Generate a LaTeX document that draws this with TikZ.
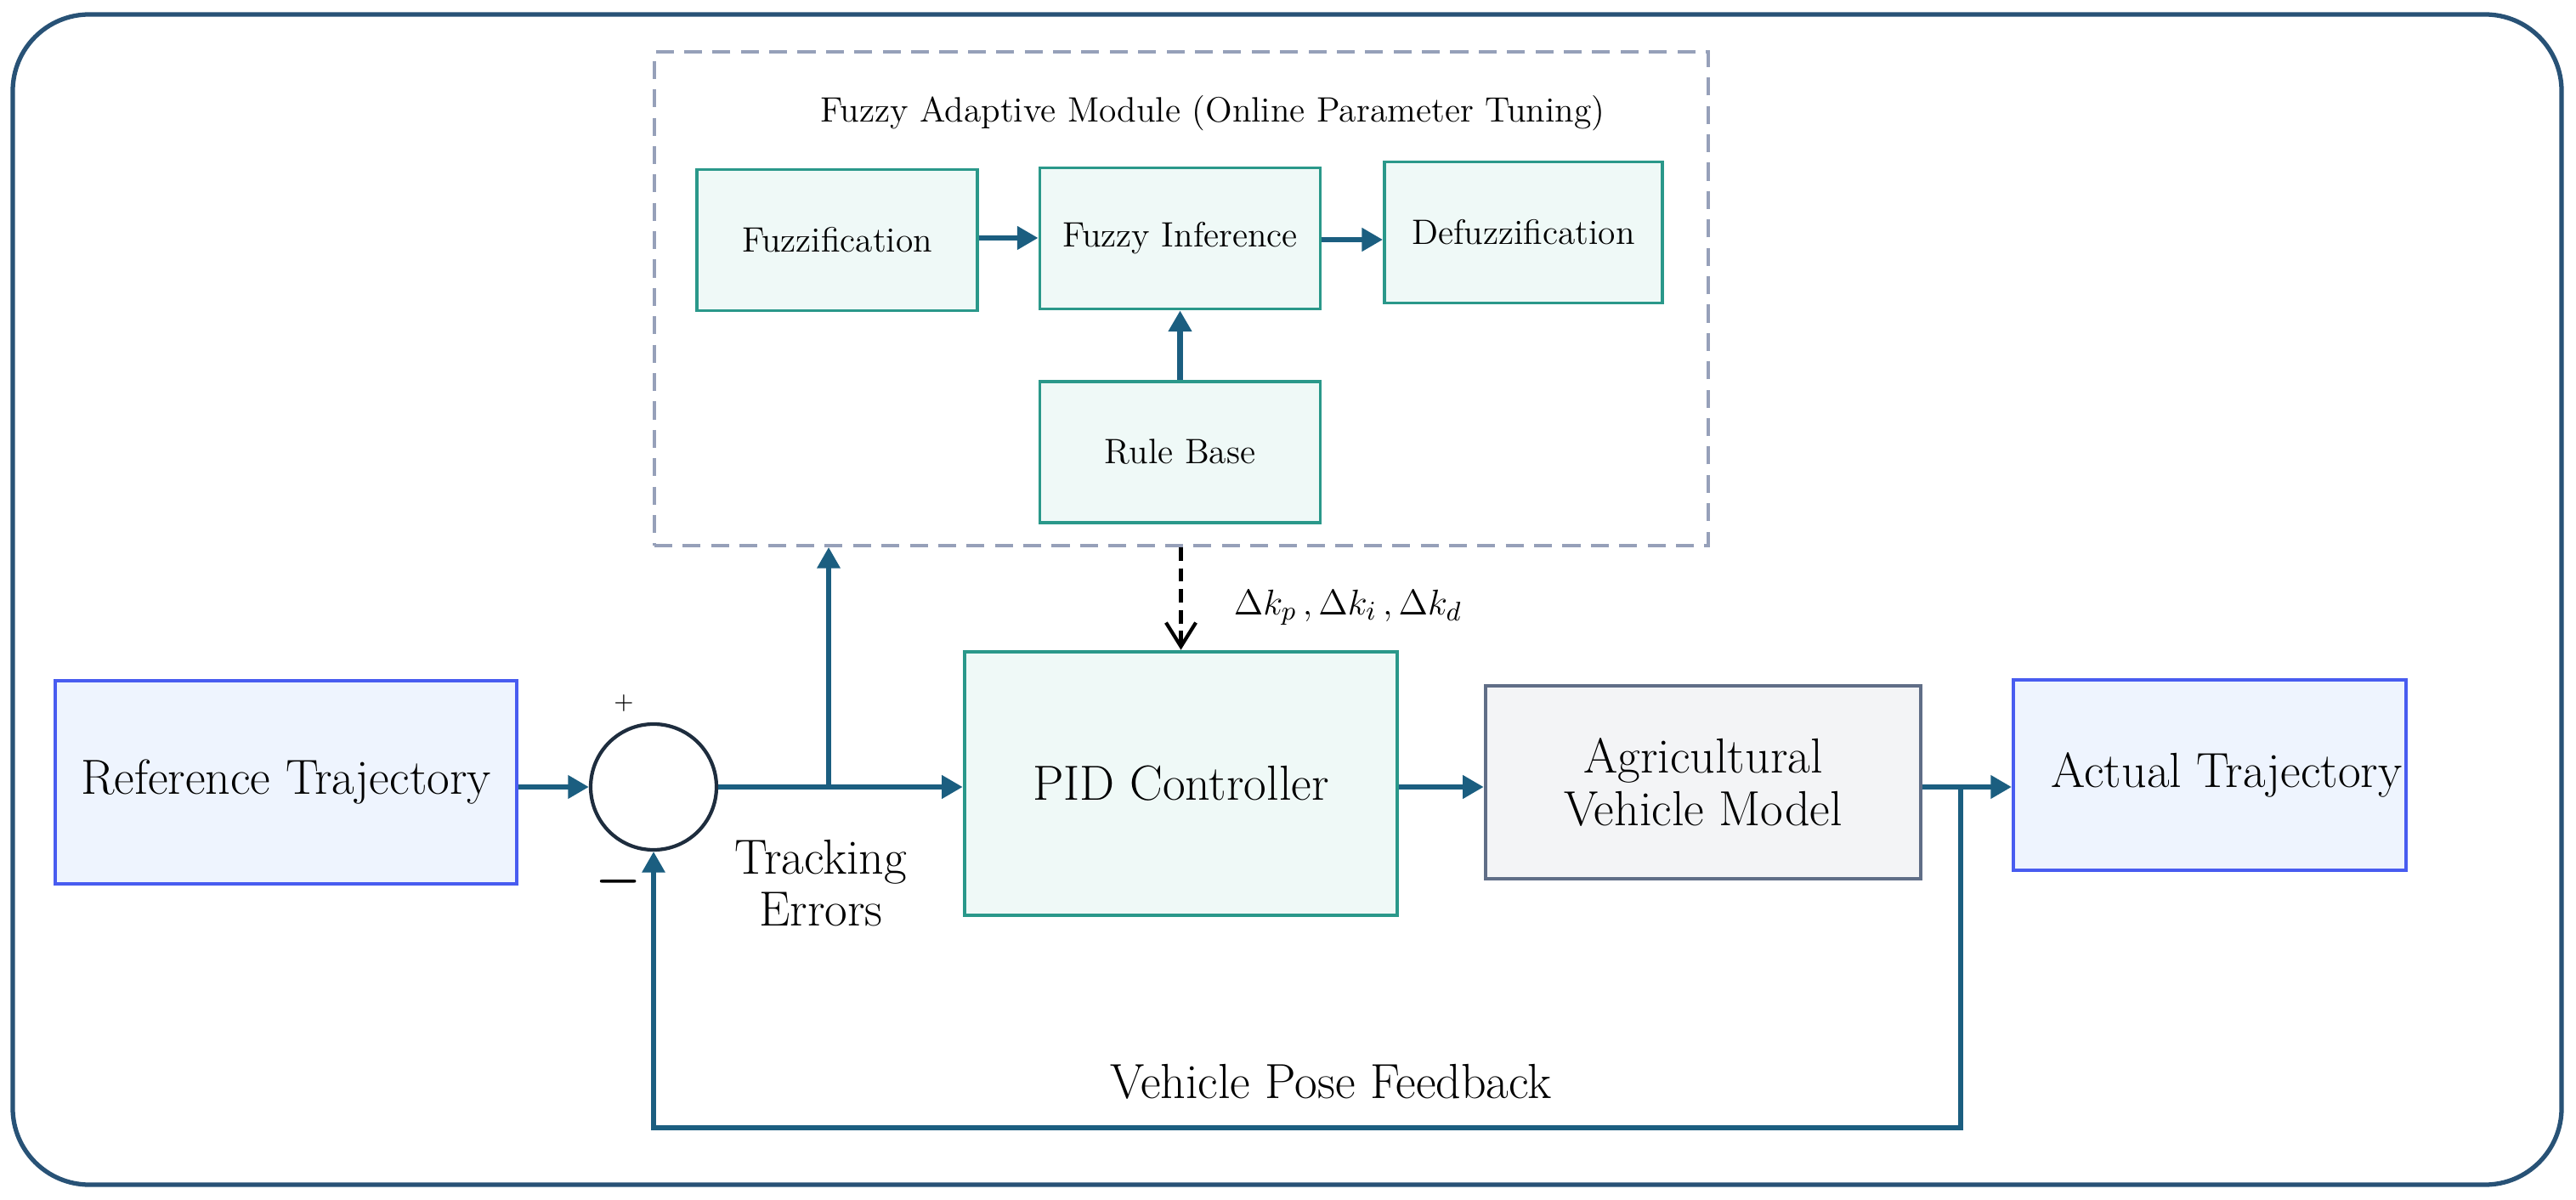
\documentclass[tikz,border=0pt]{standalone}
\usepackage{amsmath}
\usepackage{xcolor}
\usepackage{tikz}
\usetikzlibrary{arrows.meta, positioning, calc}
\definecolor{sigline}{RGB}{27, 94, 128}
\definecolor{tealedge}{RGB}{42, 152, 138}
\definecolor{tealfill}{RGB}{239, 249, 247}
\definecolor{refedge}{RGB}{72, 92, 240}
\definecolor{reffill}{RGB}{238, 244, 254}
\definecolor{plantedge}{RGB}{96, 110, 135}
\definecolor{plantfill}{RGB}{243, 244, 246}
\definecolor{modedge}{RGB}{150, 160, 185}
\definecolor{frameedge}{RGB}{40, 82, 118}
\definecolor{sumedge}{RGB}{30, 45, 62}
\newcommand{\bigfont}{\fontsize{16.5}{17.5}\selectfont}
\newcommand{\smallfont}{\fontsize{11.8}{14}\selectfont}

\begin{document}
\begin{tikzpicture}[>={Triangle[length=7pt, width=7.5pt]},
    sig/.style={->, sigline, line width=1.8pt},
    fuzzybox/.style={draw=tealedge, fill=tealfill, line width=1.1pt,
      minimum width=3.3cm, minimum height=1.66cm, font=\smallfont},
    trajbox/.style={draw=refedge, fill=reffill, line width=1.2pt,
      font=\bigfont, align=center}]
  \useasboundingbox (0,0) rectangle (30.31,14.11);

  % outer frame
  \draw[frameedge, line width=1.5pt, rounded corners=0.9cm]
    (0.15,0.17) rectangle (30.14,13.94);

  % fuzzy adaptive module
  \node[draw=modedge, line width=1.1pt, dash pattern=on 6pt off 3.5pt,
        minimum width=12.4cm, minimum height=5.81cm] (fam) at (13.90,10.595) {};
  \node[font=\smallfont] (famtitle) at (14.27,12.78)
    {Fuzzy Adaptive Module (Online Parameter Tuning)};
  \node[fuzzybox] (fuzz) at (9.85,11.285) {Fuzzification};
  \node[fuzzybox] (infer) at (13.885,11.305) {Fuzzy Inference};
  \node[fuzzybox, minimum width=3.27cm] (defuzz) at (17.925,11.375) {Defuzzification};
  \node[fuzzybox] (rules) at (13.885,8.79) {Rule Base};

  \draw[sig] (fuzz.east |- 0,11.31) -- (infer.west |- 0,11.31);
  \draw[sig] (infer.east |- 0,11.29) -- (defuzz.west |- 0,11.29);
  \draw[sig] (rules.north) -- (infer.south);

  % main loop
  \node[trajbox, minimum width=5.43cm, minimum height=2.39cm] (ref) at (3.365,4.905)
    {Reference Trajectory};
  \node[draw=sumedge, line width=1.2pt, circle, minimum size=1.48cm] (sum)
    at (7.69,4.85) {};
  \node[font=\fontsize{8}{9}\selectfont] (plus) at (7.34,5.84) {$+$};
  \node[font=\bigfont] (minus) at (7.28,3.74) {$\boldsymbol{-}$};
  \node[draw=tealedge, fill=tealfill, line width=1.3pt, minimum width=5.09cm,
        minimum height=3.10cm, font=\bigfont] (pid) at (13.895,4.89) {PID Controller};
  \node[draw=plantedge, fill=plantfill, line width=1.3pt, minimum width=5.12cm,
        minimum height=2.27cm, font=\bigfont, align=center] (veh) at (20.04,4.905)
    {Agricultural\\Vehicle Model};
  \node[trajbox, inner xsep=0pt, minimum width=4.62cm, minimum height=2.24cm] (act)
    at (26.0,4.99) {\hspace{0.4cm}Actual Trajectory};

  \node[font=\bigfont, align=center] (trackerr) at (9.66,3.72) {Tracking\\Errors};
  \node[font=\bigfont] (fblabel) at (15.66,1.38) {Vehicle Pose Feedback};
  \node[font=\fontsize{13}{15}\selectfont] (gains) at (15.86,6.96)
    {$\Delta k_p\,,\Delta k_i\,,\Delta k_d$};

  \coordinate (split) at (9.75,4.85);
  \coordinate (tap) at (23.07,4.85);
  \coordinate (fbend) at (23.07,0.84);

  \draw[sig] (ref.east |- sum.west) -- (sum.west);
  \draw[sig] (sum.east) -- (pid.west |- sum.east);
  \draw[sig, line width=1.5pt] (split) -- (split |- fam.south);
  \draw[-{Straight Barb[length=8pt, width=10pt, line width=1.2pt]}, black,
        line width=1.3pt, dash pattern=on 4.5pt off 2.5pt]
    (pid.north |- fam.south) -- (pid.north);
  \draw[sig] (pid.east |- sum.east) -- (veh.west |- sum.east);
  \draw[sig] (veh.east |- sum.east) -- (act.west |- sum.east);
  \draw[sig, line width=1.5pt] (tap) -- (fbend) -| (sum.south);
\end{tikzpicture}
\end{document}
